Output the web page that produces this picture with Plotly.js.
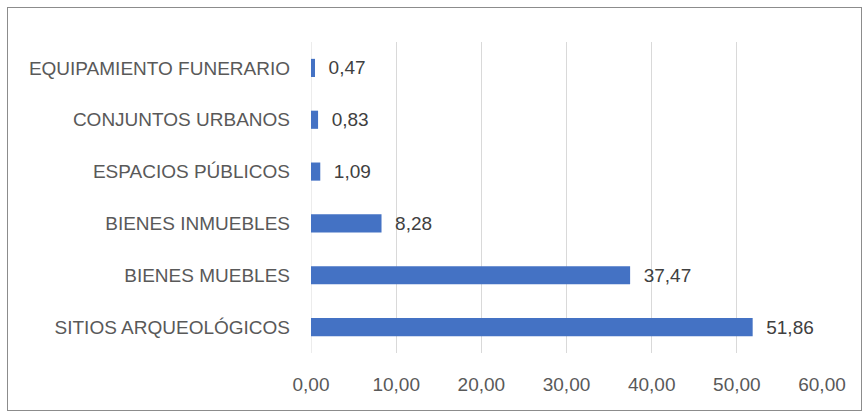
<!DOCTYPE html>
<html><head><meta charset="utf-8">
<script src="https://cdn.plot.ly/plotly-3.0.1.min.js"></script>
<style>
html,body{margin:0;padding:0;background:#fff;}
#chart{width:865px;height:412px;}
#frame{position:absolute;left:7px;top:7px;width:853px;height:402px;border:1px solid #8c8c8c;pointer-events:none;}
</style></head>
<body>
<div id="chart"></div>
<div id="frame"></div>
<script>
const categories = ["SITIOS ARQUEOLÓGICOS","BIENES MUEBLES","BIENES INMUEBLES","ESPACIOS PÚBLICOS","CONJUNTOS URBANOS","EQUIPAMIENTO FUNERARIO"];
const values = [51.86, 37.47, 8.28, 1.09, 0.83, 0.47];
const xTicks = [0,10,20,30,40,50,60];

const trace = {
  type:'bar', orientation:'h',
  y: categories, x: values,
  marker:{color:'#4472C4'},
  width:0.35,
  texttemplate:'\u00a0\u00a0%{x:.2f}', textposition:'outside', cliponaxis:false,
  constraintext:'none',
  textfont:{family:'Liberation Sans, Arial, sans-serif', size:19, color:'#404040'},
  hoverinfo:'none'
};
const layout = {
  width:865, height:412,
  margin:{l:311, r:43, t:42, b:59},
  paper_bgcolor:'#fff', plot_bgcolor:'#fff',
  separators:',.',
  showlegend:false,
  font:{family:'Liberation Sans, Arial, sans-serif', color:'#595959'},
  xaxis:{range:[0,60], tickvals:xTicks, tickformat:'.2f', showgrid:true, gridcolor:'#d9d9d9', gridwidth:1,
         zeroline:false, showline:false, ticks:'', tickfont:{size:19, color:'#595959'}, ticklabelstandoff:18, fixedrange:true},
  yaxis:{type:'category', categoryorder:'array', categoryarray:categories, showgrid:false, zeroline:false, showline:false,
         ticks:'', tickfont:{size:19, color:'#595959'}, ticklabelstandoff:20, fixedrange:true},
  shapes:[{type:'line', xref:'x', yref:'paper', x0:0, x1:0, y0:0, y1:1, line:{color:'#d9d9d9', width:1}, layer:'below'}]
};
Plotly.newPlot('chart',[trace],layout,{displayModeBar:false, staticPlot:true});
</script>
</body></html>
